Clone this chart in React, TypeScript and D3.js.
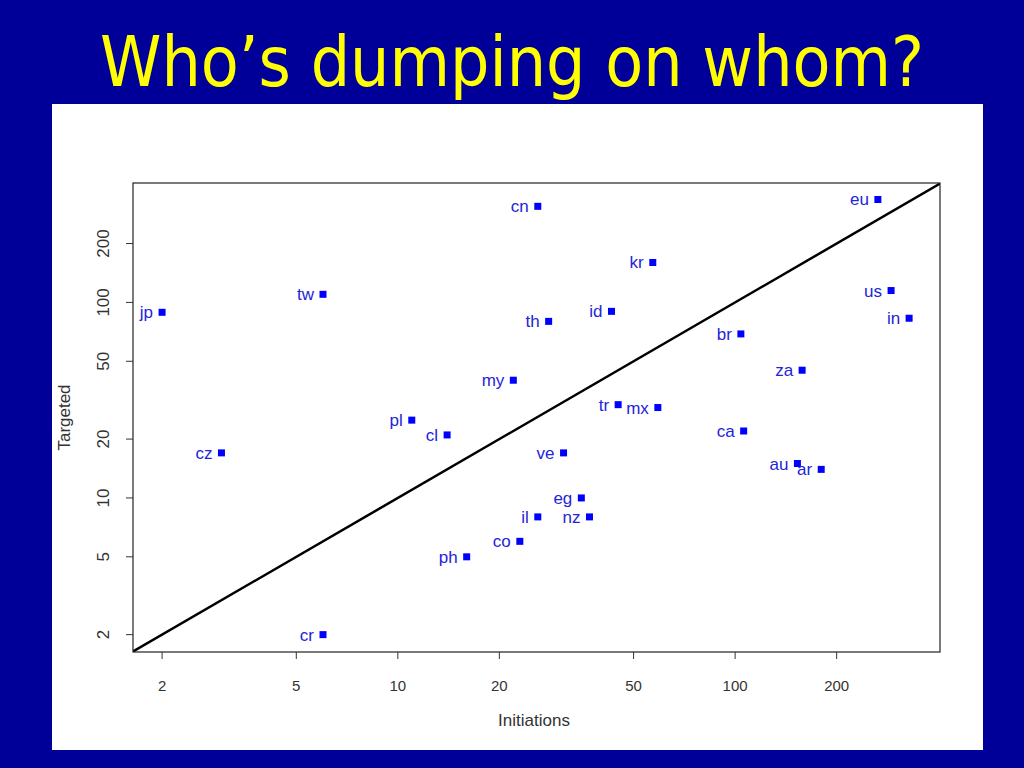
import React from 'react';
import * as d3 from 'd3';

const countries = ['jp', 'cz', 'tw', 'cr', 'pl', 'cl', 'ph', 'my', 'co', 'cn', 'il', 'th', 've', 'eg', 'nz', 'id', 'tr', 'kr', 'mx', 'br', 'ca', 'au', 'za', 'ar', 'eu', 'us', 'in'];
const initiations = [2, 3, 6, 6, 11, 14, 16, 22, 23, 26, 26, 28, 31, 35, 37, 43, 45, 57, 59, 104, 106, 153, 158, 180, 265, 290, 328];
const targeted = [89, 17, 110, 2, 25, 21, 5, 40, 6, 310, 8, 80, 17, 10, 8, 90, 30, 160, 29, 69, 22, 15, 45, 14, 336, 115, 83];

const xTicks = [2, 5, 10, 20, 50, 100, 200];
const yTicks = [2, 5, 10, 20, 50, 100, 200];

const W = 1024;
const H = 768;
const box = { left: 133, right: 940, top: 183, bottom: 652 };

const App: React.FC = () => {
  const x = d3.scaleLog().domain([1.64, 405]).range([box.left, box.right]);
  const y = d3.scaleLog().domain([1.63, 408]).range([box.bottom, box.top]);

  const diag = d3.line<number>()
    .x(d => x(d))
    .y(d => y(d));

  const font = "'Liberation Sans', Arial, sans-serif";

  return (
    <svg width={W} height={H} style={{ position: 'absolute', left: 0, top: 0 }}>
      <rect width={W} height={H} fill="#000099" />
      <text
        x={512}
        y={86}
        textAnchor="middle"
        fill="#ffff00"
        fontFamily="'DejaVu Sans', Verdana, sans-serif"
        fontSize={69}
        textLength={824}
        lengthAdjust="spacingAndGlyphs"
      >
        Who’s dumping on whom?
      </text>
      <rect x={52} y={104} width={931} height={646} fill="#ffffff" />

      <defs>
        <clipPath id="plotclip">
          <rect x={box.left} y={box.top} width={box.right - box.left} height={box.bottom - box.top} />
        </clipPath>
      </defs>

      <path
        d={diag([1.5, 420]) || ''}
        stroke="#000"
        strokeWidth={2.5}
        fill="none"
        clipPath="url(#plotclip)"
      />

      <rect
        x={box.left}
        y={box.top}
        width={box.right - box.left}
        height={box.bottom - box.top}
        fill="none"
        stroke="#222"
        strokeWidth={1.2}
      />

      {xTicks.map(t => (
        <g key={'x' + t}>
          <line x1={x(t)} x2={x(t)} y1={box.bottom} y2={box.bottom + 7} stroke="#333" />
          <text x={x(t)} y={691} textAnchor="middle" fontFamily={font} fontSize={15} fill="#333">{t}</text>
        </g>
      ))}
      {yTicks.map(t => (
        <g key={'y' + t}>
          <line x1={box.left - 7} x2={box.left} y1={y(t)} y2={y(t)} stroke="#333" />
          <text
            transform={`translate(109,${y(t)}) rotate(-90)`}
            textAnchor="middle"
            fontFamily={font}
            fontSize={17}
            fill="#333"
          >
            {t}
          </text>
        </g>
      ))}

      <text x={534} y={726} textAnchor="middle" fontFamily={font} fontSize={17} fill="#333">Initiations</text>
      <text
        transform={`translate(70,${(box.top + box.bottom) / 2}) rotate(-90)`}
        textAnchor="middle"
        fontFamily={font}
        fontSize={17}
        fill="#333"
      >
        Targeted
      </text>

      {countries.map((c, i) => {
        const px = x(initiations[i]);
        const py = y(targeted[i]);
        return (
          <g key={c}>
            <rect x={px - 3.5} y={py - 3.5} width={7} height={7} fill="#0000ff" />
            <text x={px - 9} y={py + 6} textAnchor="end" fontFamily={font} fontSize={17} fill="#2424d8">{c}</text>
          </g>
        );
      })}
    </svg>
  );
};

export default App;
